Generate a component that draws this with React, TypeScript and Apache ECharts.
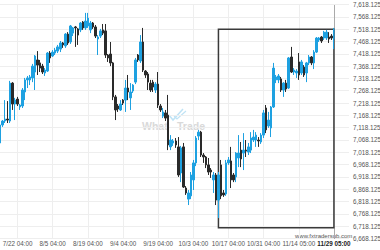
import React, { useEffect, useRef } from "react";
import * as echarts from "echarts";

// ---- data ----
const X_LABELS = [
  "7/22 04:00", "8/5 04:00", "8/19 04:00", "9/4 04:00", "9/19 04:00",
  "10/3 04:00", "10/17 04:00", "10/31 04:00", "11/14 05:00", "11/29 05:00",
];
const LABEL_START = 7;
const LABEL_STEP = 14;
const EXTRA_SLOTS = 6;

const OPEN = [
  7056, 7129, 7145, 7153, 7145, 7299, 7214, 7234, 7202, 7206,
  7263, 7312, 7312, 7320, 7344, 7393, 7381, 7368, 7340, 7348,
  7421, 7409, 7421, 7429, 7437, 7462, 7450, 7498, 7466, 7502,
  7527, 7519, 7515, 7547, 7523, 7531, 7515, 7543, 7527, 7478,
  7490, 7515, 7511, 7413, 7417, 7381, 7243, 7206, 7190, 7230,
  7230, 7279, 7239, 7267, 7303, 7413, 7389, 7466, 7348, 7336,
  7299, 7303, 7271, 7295, 7206, 7165, 7178, 7169, 7040, 7056,
  7064, 7040, 6934, 7040, 6873, 6828, 6841, 6906, 6975, 7084,
  7100, 7007, 6999, 6967, 6946, 6906, 6926, 6824, 6967, 6853,
  6849, 6975, 6983, 6926, 6918, 6995, 7027, 7015, 7027, 7019,
  7027, 7068, 7068, 7068, 7060, 7088, 7198, 7125, 7117, 7202,
  7312, 7312, 7316, 7271, 7299, 7279, 7405, 7344, 7340, 7385,
  7340, 7364, 7340, 7381, 7405, 7381, 7425, 7474, 7486, 7482,
  7482, 7486, 7490, 7478,
];
const CLOSE = [
  7129, 7145, 7153, 7149, 7299, 7214, 7230, 7214, 7210, 7271,
  7312, 7320, 7324, 7368, 7409, 7372, 7360, 7344, 7352, 7421,
  7401, 7425, 7433, 7446, 7462, 7454, 7498, 7462, 7531, 7523,
  7523, 7494, 7543, 7523, 7551, 7563, 7543, 7527, 7490, 7486,
  7511, 7502, 7413, 7401, 7381, 7243, 7190, 7194, 7214, 7218,
  7279, 7263, 7263, 7291, 7393, 7393, 7466, 7352, 7332, 7303,
  7271, 7283, 7295, 7210, 7190, 7182, 7157, 7048, 7068, 7064,
  7048, 6926, 7036, 6877, 6853, 6853, 6926, 6975, 7076, 7100,
  7007, 6999, 6967, 6938, 6938, 6926, 6824, 6926, 6841, 6845,
  6975, 6987, 6906, 6906, 7015, 7015, 6991, 7027, 7023, 7040,
  7076, 7080, 7088, 7064, 7088, 7178, 7109, 7149, 7202, 7360,
  7324, 7328, 7271, 7299, 7275, 7401, 7344, 7352, 7348, 7332,
  7385, 7332, 7381, 7405, 7381, 7425, 7482, 7482, 7470, 7506,
  7506, 7478, 7482, 7519,
];
const LOW = [
  6991, 7121, 7137, 7137, 7137, 7190, 7149, 7206, 7190, 7198,
  7230, 7279, 7291, 7303, 7271, 7332, 7344, 7336, 7328, 7344,
  7381, 7405, 7413, 7421, 7425, 7442, 7442, 7454, 7458, 7490,
  7446, 7454, 7506, 7515, 7515, 7523, 7502, 7519, 7482, 7413,
  7482, 7494, 7401, 7385, 7368, 7230, 7149, 7182, 7186, 7210,
  7182, 7230, 7190, 7259, 7295, 7385, 7381, 7344, 7320, 7271,
  7263, 7263, 7259, 7198, 7182, 7157, 7145, 7027, 7027, 7044,
  7036, 6918, 6897, 6873, 6845, 6804, 6828, 6865, 6962, 7068,
  6999, 6975, 6954, 6926, 6914, 6853, 6804, 6751, 6828, 6837,
  6841, 6967, 6873, 6897, 6897, 6958, 6958, 6946, 6999, 7007,
  7015, 7060, 7040, 7040, 7052, 7076, 7096, 7117, 7080, 7198,
  7299, 7299, 7263, 7243, 7263, 7275, 7340, 7332, 7320, 7312,
  7332, 7324, 7303, 7372, 7372, 7356, 7421, 7466, 7462, 7474,
  7474, 7462, 7474, 7437,
];
const HIGH = [
  7137, 7149, 7230, 7226, 7308, 7303, 7239, 7243, 7214, 7279,
  7320, 7328, 7332, 7377, 7413, 7429, 7393, 7377, 7360, 7425,
  7429, 7433, 7442, 7454, 7470, 7466, 7502, 7506, 7535, 7527,
  7531, 7523, 7547, 7551, 7584, 7584, 7551, 7547, 7535, 7494,
  7519, 7539, 7539, 7417, 7466, 7385, 7251, 7214, 7230, 7234,
  7312, 7332, 7299, 7295, 7401, 7417, 7494, 7523, 7352, 7344,
  7312, 7312, 7303, 7344, 7214, 7198, 7190, 7251, 7088, 7072,
  7076, 7080, 7044, 7056, 6881, 6865, 6938, 6987, 7084, 7109,
  7105, 7015, 7003, 6995, 6954, 6938, 6934, 6938, 6987, 6865,
  6987, 6999, 7040, 6934, 7019, 7088, 7060, 7096, 7068, 7056,
  7100, 7109, 7100, 7080, 7096, 7190, 7210, 7182, 7206, 7381,
  7332, 7336, 7324, 7303, 7312, 7405, 7446, 7360, 7356, 7421,
  7393, 7372, 7385, 7413, 7409, 7433, 7486, 7486, 7490, 7511,
  7515, 7506, 7498, 7523,
];

const Y_MIN = 6668.125;
const Y_MAX = 7618.125;
const Y_STEP = 50;

const RECT_FROM = 87;
const RECT_TO = 133;
const RECT_TOP = 7518;
const RECT_BOTTOM = 6712;
const LAST_INDEX = 133;

const WATERMARK_URL = "www.fxtradersub.com";

export default function App() {
  const ref = useRef<HTMLDivElement>(null);

  useEffect(() => {
    if (!ref.current) return;
    const chart = echarts.init(ref.current, undefined, { renderer: "svg" });

    // axis ticks are counted from a multiple of the step; shift so ticks fall on x.125 values
    const OFFSET = Y_MIN - Math.floor(Y_MIN / Y_STEP) * Y_STEP;
    const n = OPEN.length;
    const total = n + EXTRA_SLOTS;
    const isLabel = (i: number) =>
      i >= LABEL_START &&
      (i - LABEL_START) % LABEL_STEP === 0 &&
      (i - LABEL_START) / LABEL_STEP < X_LABELS.length;
    const cats: string[] = [];
    for (let i = 0; i < total; i++) {
      cats.push(isLabel(i) ? X_LABELS[(i - LABEL_START) / LABEL_STEP] : "_" + i);
    }
    const data = OPEN.map((o, i) => [
      o - OFFSET,
      CLOSE[i] - OFFSET,
      LOW[i] - OFFSET,
      HIGH[i] - OFFSET,
    ]);
    const fmt = (u: number) =>
      (u + OFFSET).toLocaleString("en-US", {
        minimumFractionDigits: 3,
        maximumFractionDigits: 3,
      });

    const font = "'Liberation Sans', Arial, sans-serif";

    chart.setOption({
      animation: false,
      backgroundColor: "#ffffff",
      textStyle: { fontFamily: font },
      grid: {
        left: 0,
        right: 31,
        top: 4.5,
        bottom: 11.5,
        outerBoundsMode: "none",
        containLabel: false,
      },
      xAxis: {
        type: "category",
        data: cats,
        boundaryGap: false,
        axisLine: { show: false },
        axisTick: { show: false },
        axisLabel: {
          interval: (i: number) => isLabel(i),
          fontSize: 6.3,
          color: "#555",
          margin: 2,
          fontFamily: font,
          formatter: (v: string, idx: number) =>
            idx === LAST_INDEX ? "{b|" + v + "}" : v,
          rich: {
            b: { fontWeight: "bold", color: "#222", fontSize: 6.3, fontFamily: font },
          },
        },
        splitLine: {
          show: true,
          interval: (i: number) => isLabel(i),
          lineStyle: { color: "#eeeeee", width: 1 },
        },
      },
      yAxis: {
        type: "value",
        position: "right",
        min: Y_MIN - OFFSET,
        max: Y_MAX - OFFSET,
        interval: Y_STEP,
        axisLine: { show: false },
        axisTick: { show: false },
        axisLabel: {
          fontSize: 6.3,
          color: "#555",
          margin: 4,
          fontFamily: font,
          formatter: fmt,
        },
        splitLine: { show: true, lineStyle: { color: "#eeeeee", width: 1 } },
      },
      series: [
        {
          type: "candlestick",
          data,
          barWidth: 2,
          itemStyle: {
            color: "#1ea1e1",
            color0: "#2a2a2a",
            borderColor: "#1ea1e1",
            borderColor0: "#2a2a2a",
            borderWidth: 1,
          },
          markArea: {
            silent: true,
            itemStyle: {
              color: "rgba(0,0,0,0)",
              borderColor: "#3a3a3a",
              borderWidth: 1.5,
            },
            data: [
              [
                { xAxis: cats[RECT_FROM], yAxis: RECT_TOP - OFFSET },
                { xAxis: cats[RECT_TO], yAxis: RECT_BOTTOM - OFFSET },
              ],
            ],
          },
          markLine: {
            silent: true,
            symbol: ["none", "none"],
            label: { show: false },
            lineStyle: { type: "dotted", color: "#666", width: 1 },
            data: [{ xAxis: cats[LAST_INDEX] }],
          },
        },
      ],
      graphic: [
        {
          type: "text",
          left: 142,
          top: 120,
          silent: true,
          style: {
            text: "What",
            fill: "#d9d9d9",
            font: "bold 10.5px " + font,
          },
        },
        {
          type: "text",
          left: 177,
          top: 120,
          silent: true,
          style: {
            text: "Trade",
            fill: "#d9d9d9",
            font: "bold 10.5px " + font,
          },
        },
        {
          type: "polyline",
          silent: true,
          shape: { points: [[169, 115], [173, 120], [183, 109]] },
          style: { stroke: "#bfe3f5", lineWidth: 1.5, fill: null },
        },
        {
          type: "polyline",
          silent: true,
          shape: { points: [[174, 116], [177, 119], [186, 111]] },
          style: { stroke: "#bfe3f5", lineWidth: 1.2, fill: null },
        },
        {
          type: "text",
          left: 295,
          top: 232.5,
          silent: true,
          style: {
            text: WATERMARK_URL,
            fill: "#555",
            font: "6px " + font,
          },
        },
      ],
    });

    return () => chart.dispose();
  }, []);

  return (
    <div
      ref={ref}
      style={{ position: "fixed", left: 0, top: 0, width: 380, height: 250 }}
    />
  );
}
